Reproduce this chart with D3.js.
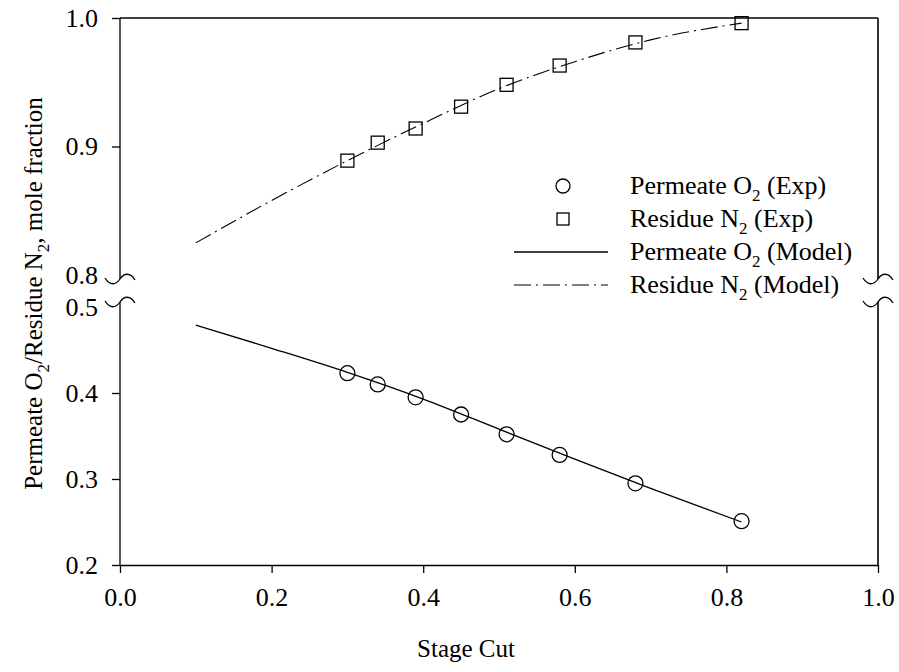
<!DOCTYPE html>
<html>
<head>
<meta charset="utf-8">
<script src="https://cdn.jsdelivr.net/npm/d3@7"></script>
<style>
  html, body { margin: 0; padding: 0; background: #fff; }
  svg text { font-family: "Liberation Serif", "Times New Roman", serif; fill: #000; }
</style>
</head>
<body>
<svg id="chart" width="899" height="672"></svg>
<script>
// Stage cut of the experimental runs
const stageCut = [0.30, 0.34, 0.39, 0.45, 0.51, 0.58, 0.68, 0.82];
// Measured compositions (mole fraction)
const permeateO2Exp = [0.423, 0.410, 0.395, 0.375, 0.352, 0.328, 0.295, 0.251];
const residueN2Exp = [0.889, 0.903, 0.914, 0.931, 0.948, 0.963, 0.981, 0.996];
// Model curves
const modelCut = [0.10, 0.20, 0.30, 0.40, 0.50, 0.60, 0.70, 0.82];
const permeateO2Model = [0.479, 0.452, 0.424, 0.393, 0.358, 0.323, 0.289, 0.250];
const residueN2Model = [0.825, 0.858, 0.889, 0.918, 0.945, 0.966, 0.983, 0.996];
// Axis ticks
const xTicks = [0.0, 0.2, 0.4, 0.6, 0.8, 1.0];
const yUpperTicks = [0.8, 0.9, 1.0];
const yLowerTicks = [0.2, 0.3, 0.4, 0.5];

const svg = d3.select("#chart");
const plotL = 120, plotR = 878, plotT = 18, plotB = 565;
const tickFont = 26, titleFont = 25, subFont = 17;

const x = d3.scaleLinear().domain([0, 1]).range([plotL, plotR]);
const yUp = d3.scaleLinear().domain([0.8, 1.0]).range([275, plotT]);
const yLo = d3.scaleLinear().domain([0.2, 0.5]).range([plotB, 307]);

const breakUpper = 279, breakLower = 302;
const stroke = "#000";

// frame: top and right edges
svg.append("line").attr("x1", plotL).attr("x2", plotR).attr("y1", plotT).attr("y2", plotT)
  .attr("stroke", stroke).attr("stroke-width", 1.3);
svg.append("line").attr("x1", plotR).attr("x2", plotR).attr("y1", plotT).attr("y2", breakUpper)
  .attr("stroke", "#333").attr("stroke-width", 2);
svg.append("line").attr("x1", plotR).attr("x2", plotR).attr("y1", breakLower).attr("y2", plotB)
  .attr("stroke", "#333").attr("stroke-width", 2);

// x axis
const xAxis = d3.axisBottom(x).tickValues(xTicks).tickSize(8).tickSizeOuter(0)
  .tickFormat(d3.format(".1f"));
const gx = svg.append("g").attr("transform", `translate(0,${plotB})`).call(xAxis);
gx.select(".domain").attr("stroke", stroke).attr("stroke-width", 1.3);
gx.selectAll(".tick line").attr("stroke", stroke).attr("stroke-width", 1.3);
gx.selectAll(".tick text").attr("font-size", tickFont).attr("dy", "1.15em")
  .style("font-family", "'Liberation Serif', serif");

// y axis, upper segment
const yAxisUp = d3.axisLeft(yUp).tickValues(yUpperTicks).tickSize(8).tickSizeOuter(0)
  .tickFormat(d3.format(".1f"));
const gyu = svg.append("g").attr("transform", `translate(${plotL},0)`).call(yAxisUp);
gyu.select(".domain").remove();
gyu.selectAll(".tick line").attr("stroke", stroke).attr("stroke-width", 1.3)
  .attr("display", d => d === 0.8 ? "none" : null);
gyu.selectAll(".tick text").attr("font-size", tickFont).attr("x", -22)
  .style("font-family", "'Liberation Serif', serif");

// y axis, lower segment
const yAxisLo = d3.axisLeft(yLo).tickValues(yLowerTicks).tickSize(8).tickSizeOuter(0)
  .tickFormat(d3.format(".1f"));
const gyl = svg.append("g").attr("transform", `translate(${plotL},0)`).call(yAxisLo);
gyl.select(".domain").remove();
gyl.selectAll(".tick line").attr("stroke", stroke).attr("stroke-width", 1.3)
  .attr("display", d => d === 0.5 ? "none" : null);
gyl.selectAll(".tick text").attr("font-size", tickFont).attr("x", -22)
  .style("font-family", "'Liberation Serif', serif");

// axis lines with the break
svg.append("line").attr("x1", plotL).attr("x2", plotL).attr("y1", plotT).attr("y2", breakUpper)
  .attr("stroke", stroke).attr("stroke-width", 1.3);
svg.append("line").attr("x1", plotL).attr("x2", plotL).attr("y1", breakLower).attr("y2", plotB)
  .attr("stroke", stroke).attr("stroke-width", 1.3);

// break marks
const squiggle = "M-15,-1 C-10,7 -4,6 0,0 C4,-6 10,-7 15,1";
[[plotL, breakUpper], [plotL, breakLower], [plotR, breakUpper], [plotR, breakLower]].forEach(([bx, by]) => {
  svg.append("path").attr("d", squiggle).attr("transform", `translate(${bx},${by})`)
    .attr("fill", "none").attr("stroke", stroke).attr("stroke-width", 1.3);
});

// model curves
const lineUp = d3.line().x((d, i) => x(modelCut[i])).y(d => yUp(d)).curve(d3.curveMonotoneX);
const lineLo = d3.line().x((d, i) => x(modelCut[i])).y(d => yLo(d)).curve(d3.curveMonotoneX);
svg.append("path").attr("d", lineLo(permeateO2Model)).attr("fill", "none")
  .attr("stroke", stroke).attr("stroke-width", 1.3);
svg.append("path").attr("d", lineUp(residueN2Model)).attr("fill", "none")
  .attr("stroke", stroke).attr("stroke-width", 1.1).attr("stroke-dasharray", "17,5,2,5");

// experimental points
svg.append("g").selectAll("circle").data(permeateO2Exp).join("circle")
  .attr("cx", (d, i) => x(stageCut[i])).attr("cy", d => yLo(d)).attr("r", 7.5)
  .attr("fill", "none").attr("stroke", stroke).attr("stroke-width", 1.3);
svg.append("g").selectAll("rect").data(residueN2Exp).join("rect")
  .attr("x", (d, i) => x(stageCut[i]) - 6.5).attr("y", d => yUp(d) - 6.5)
  .attr("width", 13).attr("height", 13)
  .attr("fill", "none").attr("stroke", stroke).attr("stroke-width", 1.3);

// legend
const lg = svg.append("g");
const lgRows = [186, 219, 252, 285];
const lgMarkX = 563, lgTextX = 630;
lg.append("circle").attr("cx", lgMarkX).attr("cy", lgRows[0]).attr("r", 7)
  .attr("fill", "none").attr("stroke", stroke).attr("stroke-width", 1.3);
lg.append("rect").attr("x", lgMarkX - 6).attr("y", lgRows[1] - 6).attr("width", 12).attr("height", 12)
  .attr("fill", "none").attr("stroke", stroke).attr("stroke-width", 1.3);
lg.append("line").attr("x1", 514).attr("x2", 608).attr("y1", lgRows[2]).attr("y2", lgRows[2])
  .attr("stroke", stroke).attr("stroke-width", 1.3);
lg.append("line").attr("x1", 514).attr("x2", 608).attr("y1", lgRows[3]).attr("y2", lgRows[3])
  .attr("stroke", stroke).attr("stroke-width", 1.1).attr("stroke-dasharray", "17,5,2,5");

const lgLabels = [
  ["Permeate O", "2", " (Exp)"],
  ["Residue N", "2", " (Exp)"],
  ["Permeate O", "2", " (Model)"],
  ["Residue N", "2", " (Model)"]
];
lgLabels.forEach((parts, i) => {
  const t = lg.append("text").attr("x", lgTextX).attr("y", lgRows[i] + 8).attr("font-size", tickFont);
  t.append("tspan").text(parts[0]);
  t.append("tspan").text(parts[1]).attr("font-size", subFont).attr("dy", 7);
  t.append("tspan").text(parts[2]).attr("dy", -7);
});

// axis titles
svg.append("text").attr("x", 466).attr("y", 657).attr("text-anchor", "middle")
  .attr("font-size", titleFont).text("Stage Cut");

const yt = svg.append("text").attr("transform", `translate(42,${(plotT + plotB) / 2 + 2}) rotate(-90)`)
  .attr("text-anchor", "middle").attr("font-size", titleFont);
yt.append("tspan").text("Permeate O");
yt.append("tspan").text("2").attr("font-size", subFont).attr("dy", 7);
yt.append("tspan").text("/Residue N").attr("dy", -7);
yt.append("tspan").text("2").attr("font-size", subFont).attr("dy", 7);
yt.append("tspan").text(", mole fraction").attr("dy", -7);
</script>
</body>
</html>
